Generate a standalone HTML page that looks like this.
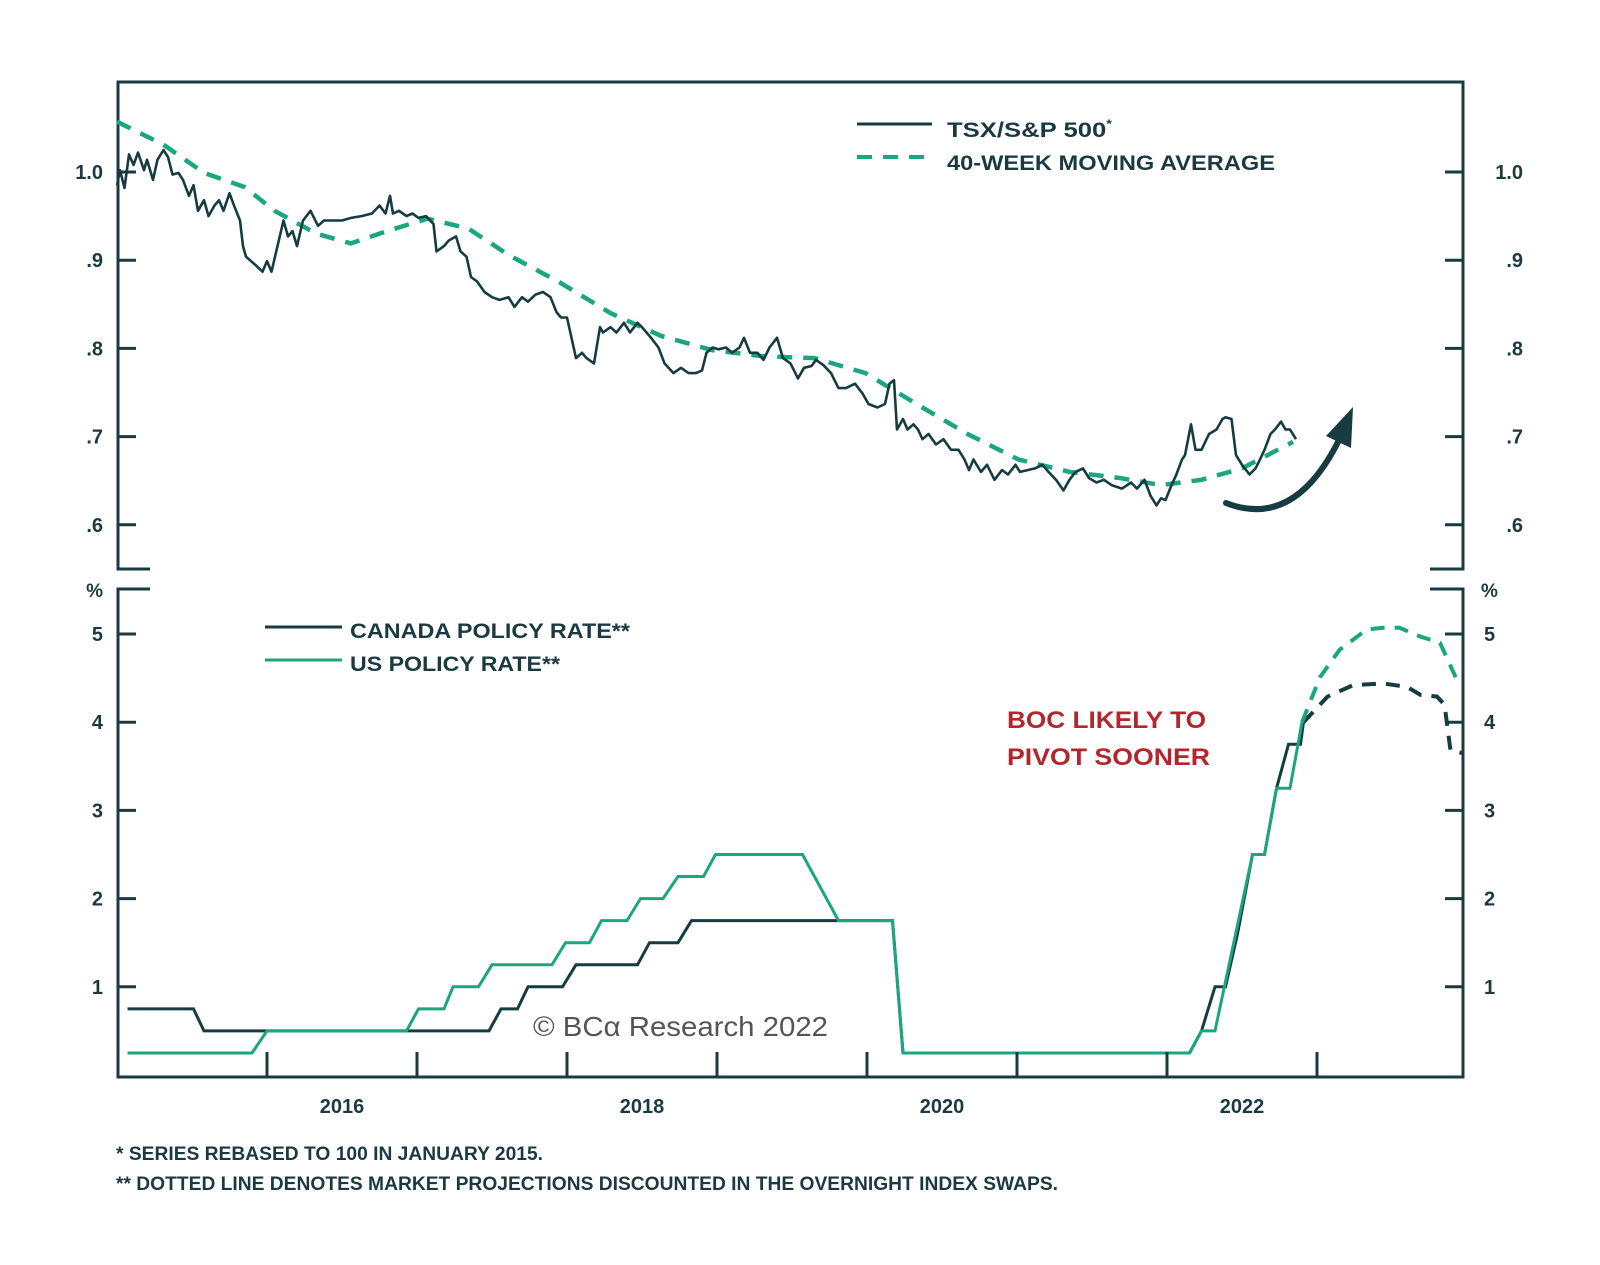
<!DOCTYPE html>
<html><head><meta charset="utf-8"><style>
html,body{margin:0;padding:0;background:#fff;}
svg{display:block;}
text{font-family:"Liberation Sans",sans-serif;}
</style></head><body>
<svg id="chart" width="1600" height="1265" viewBox="0 0 1600 1265" xmlns="http://www.w3.org/2000/svg">
<rect x="0" y="0" width="1600" height="1265" fill="#fff"/>
<g id="frame" stroke="#1b3a40" stroke-width="3" fill="none">
<polyline points="150,569 118,569 118,82 1463,82 1463,569 1430,569"/>
<polyline points="150,589 118,589 118,1077 1463,1077 1463,589 1430,589"/>
</g>
<g id="legend-top">
<line x1="857" y1="124" x2="932" y2="124" stroke="#1b3a40" stroke-width="3"/>
<text x="947" y="137" font-size="21" font-weight="bold" fill="#1b3a40" textLength="165" lengthAdjust="spacingAndGlyphs">TSX/S&amp;P 500<tspan font-size="12" dy="-9">*</tspan></text>
<line x1="857" y1="157" x2="932" y2="157" stroke="#1aa67f" stroke-width="4" stroke-dasharray="15,11"/>
<text x="947" y="170" font-size="21" font-weight="bold" fill="#1b3a40" textLength="328" lengthAdjust="spacingAndGlyphs">40-WEEK MOVING AVERAGE</text>
</g>
<g id="legend-bottom">
<line x1="265" y1="627" x2="342" y2="627" stroke="#1b3a40" stroke-width="3"/>
<text x="350" y="638" font-size="21" font-weight="bold" fill="#1b3a40" textLength="280" lengthAdjust="spacingAndGlyphs">CANADA POLICY RATE**</text>
<line x1="265" y1="660" x2="342" y2="660" stroke="#1aa67f" stroke-width="3"/>
<text x="350" y="671" font-size="21" font-weight="bold" fill="#1b3a40" textLength="210" lengthAdjust="spacingAndGlyphs">US POLICY RATE**</text>
</g>
<text x="1007" y="728" font-size="24" font-weight="bold" fill="#b3262d" textLength="199" lengthAdjust="spacingAndGlyphs">BOC LIKELY TO</text>
<text x="1007" y="765" font-size="24" font-weight="bold" fill="#b3262d" textLength="203" lengthAdjust="spacingAndGlyphs">PIVOT SOONER</text>
<text x="533" y="1036" font-size="28" fill="#555" font-family="Liberation Serif, serif" textLength="295" lengthAdjust="spacingAndGlyphs">© BCα Research 2022</text>
<text x="116" y="1160" font-size="19" font-weight="bold" fill="#1b3a40" textLength="427" lengthAdjust="spacingAndGlyphs">*  SERIES REBASED TO 100 IN JANUARY 2015.</text>
<text x="116" y="1190" font-size="19" font-weight="bold" fill="#1b3a40" textLength="942" lengthAdjust="spacingAndGlyphs">** DOTTED LINE DENOTES MARKET PROJECTIONS DISCOUNTED IN THE OVERNIGHT INDEX SWAPS.</text>
<path d="M1226,503 Q1295,530 1340,438" fill="none" stroke="#163c42" stroke-width="6" stroke-linecap="round"/>
<polygon points="1353,407 1326,436 1351,448" fill="#163c42"/>
<g id="marks"></g>
</svg>
<script>
var tsxDates=[2015.00,2015.02,2015.05,2015.08,2015.11,2015.14,2015.18,2015.20,2015.24,2015.27,2015.31,2015.34,2015.37,2015.41,2015.44,2015.48,2015.51,2015.54,2015.58,2015.61,2015.65,2015.68,2015.71,2015.75,2015.78,2015.82,2015.84,2015.86,2015.92,2015.97,2016.00,2016.03,2016.07,2016.11,2016.14,2016.17,2016.20,2016.24,2016.29,2016.34,2016.38,2016.43,2016.50,2016.56,2016.63,2016.70,2016.75,2016.79,2016.82,2016.84,2016.88,2016.93,2016.97,2017.01,2017.06,2017.11,2017.13,2017.18,2017.21,2017.26,2017.29,2017.33,2017.36,2017.40,2017.45,2017.50,2017.55,2017.61,2017.65,2017.70,2017.74,2017.79,2017.84,2017.89,2017.93,2017.96,2018.00,2018.03,2018.06,2018.10,2018.13,2018.18,2018.22,2018.24,2018.29,2018.33,2018.38,2018.42,2018.47,2018.50,2018.56,2018.61,2018.65,2018.71,2018.76,2018.81,2018.86,2018.90,2018.93,2018.97,2019.01,2019.06,2019.10,2019.15,2019.18,2019.22,2019.27,2019.31,2019.35,2019.40,2019.44,2019.49,2019.54,2019.58,2019.63,2019.66,2019.71,2019.76,2019.81,2019.86,2019.92,2019.97,2020.01,2020.07,2020.12,2020.15,2020.18,2020.20,2020.24,2020.27,2020.31,2020.34,2020.37,2020.41,2020.46,2020.51,2020.56,2020.61,2020.65,2020.68,2020.71,2020.76,2020.80,2020.85,2020.90,2020.94,2020.99,2021.02,2021.07,2021.12,2021.17,2021.21,2021.26,2021.31,2021.35,2021.39,2021.44,2021.48,2021.53,2021.58,2021.63,2021.70,2021.76,2021.80,2021.85,2021.89,2021.93,2021.96,2021.99,2022.03,2022.06,2022.10,2022.12,2022.16,2022.19,2022.23,2022.28,2022.33,2022.37,2022.39,2022.43,2022.46,2022.50,2022.55,2022.59,2022.62,2022.65,2022.69,2022.72,2022.76,2022.79,2022.82,2022.86];
var tsxValues=[.985,1.002,.982,1.020,1.008,1.022,1.002,1.014,.991,1.014,1.025,1.017,.997,.999,.991,.973,.985,.956,.968,.950,.962,.968,.956,.976,.962,.945,.916,.904,.895,.887,.899,.887,.916,.945,.927,.933,.916,.945,.956,.939,.945,.945,.945,.948,.950,.953,.962,.953,.973,.953,.956,.950,.953,.948,.950,.941,.910,.916,.922,.927,.910,.904,.881,.876,.864,.858,.855,.858,.847,.858,.853,.861,.864,.858,.841,.835,.835,.812,.789,.795,.789,.783,.824,.818,.824,.818,.829,.818,.829,.824,.812,.801,.783,.772,.778,.772,.772,.775,.795,.801,.799,.801,.795,.801,.812,.795,.795,.787,.801,.812,.789,.783,.766,.778,.780,.787,.781,.772,.755,.755,.760,.749,.737,.733,.737,.760,.764,.708,.720,.708,.714,.708,.697,.703,.691,.697,.685,.685,.674,.662,.674,.660,.668,.651,.662,.657,.668,.660,.662,.664,.668,.660,.651,.639,.651,.660,.664,.653,.648,.651,.645,.641,.648,.641,.651,.633,.622,.630,.628,.645,.656,.674,.679,.714,.685,.685,.703,.708,.720,.722,.720,.679,.668,.657,.664,.674,.685,.703,.708,.717,.708,.708,.697];
var maDates=[2015.00,2015.31,2015.58,2015.85,2016.05,2016.33,2016.56,2016.80,2017.07,2017.34,2017.61,2017.95,2018.29,2018.63,2018.97,2019.31,2019.65,2019.99,2020.33,2020.67,2021.01,2021.35,2021.69,2021.96,2022.23,2022.50,2022.84];
var maValues=[1.057,1.031,.999,.983,.956,.930,.919,.933,.947,.936,.906,.875,.840,.814,.798,.791,.789,.772,.737,.703,.674,.660,.653,.645,.651,.664,.694];
var caDates=[2015.07,2015.51,2015.58,2017.48,2017.56,2017.67,2017.74,2017.97,2018.06,2018.47,2018.55,2018.74,2018.83,2020.17,2020.24,2022.15,2022.23,2022.32,2022.39,2022.47,2022.57,2022.65,2022.73,2022.81,2022.89,2022.91];
var caValues=[.75,.75,.5,.5,.75,.75,1.0,1.0,1.25,1.25,1.5,1.5,1.75,1.75,.25,.25,.5,1.0,1.0,1.6,2.5,2.5,3.25,3.75,3.75,4.0];
var usDates=[2015.07,2015.90,2016.00,2016.93,2017.01,2017.18,2017.24,2017.41,2017.50,2017.90,2017.99,2018.15,2018.23,2018.40,2018.49,2018.64,2018.74,2018.91,2018.99,2019.57,2019.81,2020.17,2020.24,2022.15,2022.23,2022.32,2022.57,2022.65,2022.73,2022.82,2022.90];
var usValues=[.25,.25,.5,.5,.75,.75,1.0,1.0,1.25,1.25,1.5,1.5,1.75,1.75,2.0,2.0,2.25,2.25,2.5,2.5,1.75,1.75,.25,.25,.5,.5,2.5,2.5,3.25,3.25,4.0];
var caProjDates=[2022.91,2023.07,2023.24,2023.44,2023.60,2023.69,2023.80,2023.85,2023.89,2023.97];
var caProjValues=[4.0,4.29,4.42,4.44,4.40,4.31,4.29,4.2,3.68,3.65];
var usProjDates=[2022.90,2023.02,2023.15,2023.33,2023.44,2023.55,2023.69,2023.82,2023.93];
var usProjValues=[4.0,4.51,4.82,5.05,5.07,5.07,4.97,4.90,4.49];
var topTicks=[1.0,0.9,0.8,0.7,0.6];
var topTickLabels=["1.0",".9",".8",".7",".6"];
var botTicks=[5,4,3,2,1];
var botTickLabels=["5","4","3","2","1"];
var yearTicks=[2016,2017,2018,2019,2020,2021,2022,2023];
var yearLabels=["2016","2018","2020","2022"];

function xS(t){return 117+(t-2015)*150;}
function yT(v){return 172+(1-v)*882;}
function yB(r){return 1075-r*88.2;}
var NS="http://www.w3.org/2000/svg";
var marks=document.getElementById('marks');
var DARK="#163c42",GREEN="#1aa67f",AX="#1b3a40";
function mk(tag,attrs){var e=document.createElementNS(NS,tag);for(var k in attrs)e.setAttribute(k,attrs[k]);marks.appendChild(e);return e;}
function pts(ds,vs,yf){var s=[];for(var i=0;i<ds.length;i++)s.push(xS(ds[i]).toFixed(1)+","+yf(vs[i]).toFixed(1));return s.join(" ");}

var e;
e=mk('polyline',{points:pts(maDates,maValues,yT),fill:'none',stroke:GREEN,'stroke-width':4.5,'stroke-dasharray':'15,11'});


e=mk('polyline',{points:pts(tsxDates,tsxValues,yT),fill:'none',stroke:DARK,'stroke-width':2.6,'stroke-linejoin':'round'});


e=mk('polyline',{points:pts(caDates,caValues,yB),fill:'none',stroke:DARK,'stroke-width':3});


e=mk('polyline',{points:pts(usDates,usValues,yB),fill:'none',stroke:GREEN,'stroke-width':3});


e=mk('polyline',{points:pts(caProjDates,caProjValues,yB),fill:'none',stroke:DARK,'stroke-width':4,'stroke-dasharray':'14,10'});


e=mk('polyline',{points:pts(usProjDates,usProjValues,yB),fill:'none',stroke:GREEN,'stroke-width':4,'stroke-dasharray':'14,10'});



topTicks.forEach(function(v,i){
  var y=yT(v);
  e=mk('line',{x1:118,y1:y,x2:136,y2:y,stroke:AX,'stroke-width':3});
  
  
  e=mk('line',{x1:1445,y1:y,x2:1463,y2:y,stroke:AX,'stroke-width':3});
  
  
  e=mk('text',{x:103,y:y+7,'font-size':20,'font-weight':'bold',fill:AX,'text-anchor':'end'});
  e.textContent=topTickLabels[i];
  
  
  e=mk('text',{x:1523,y:y+7,'font-size':20,'font-weight':'bold',fill:AX,'text-anchor':'end'});
  e.textContent=topTickLabels[i];
  
  
});
botTicks.forEach(function(v,i){
  var y=yB(v);
  e=mk('line',{x1:118,y1:y,x2:136,y2:y,stroke:AX,'stroke-width':3});
  
  
  e=mk('line',{x1:1445,y1:y,x2:1463,y2:y,stroke:AX,'stroke-width':3});
  
  
  e=mk('text',{x:103,y:y+7,'font-size':20,'font-weight':'bold',fill:AX,'text-anchor':'end'});
  e.textContent=botTickLabels[i];
  
  
  e=mk('text',{x:1484,y:y+7,'font-size':20,'font-weight':'bold',fill:AX});
  e.textContent=botTickLabels[i];
  
  
});
e=mk('text',{x:103,y:597,'font-size':19,'font-weight':'bold',fill:AX,'text-anchor':'end'});
e.textContent='%';


e=mk('text',{x:1481,y:597,'font-size':19,'font-weight':'bold',fill:AX});
e.textContent='%';


yearTicks.forEach(function(t){
  e=mk('line',{x1:xS(t),y1:1077,x2:xS(t),y2:1052,stroke:AX,'stroke-width':3});
  
  
});
yearLabels.forEach(function(l){
  e=mk('text',{x:xS(parseInt(l)+0.5),y:1113,'font-size':20,'font-weight':'bold',fill:AX,'text-anchor':'middle'});
  e.textContent=l;
  
  
});
</script>
</body></html>
